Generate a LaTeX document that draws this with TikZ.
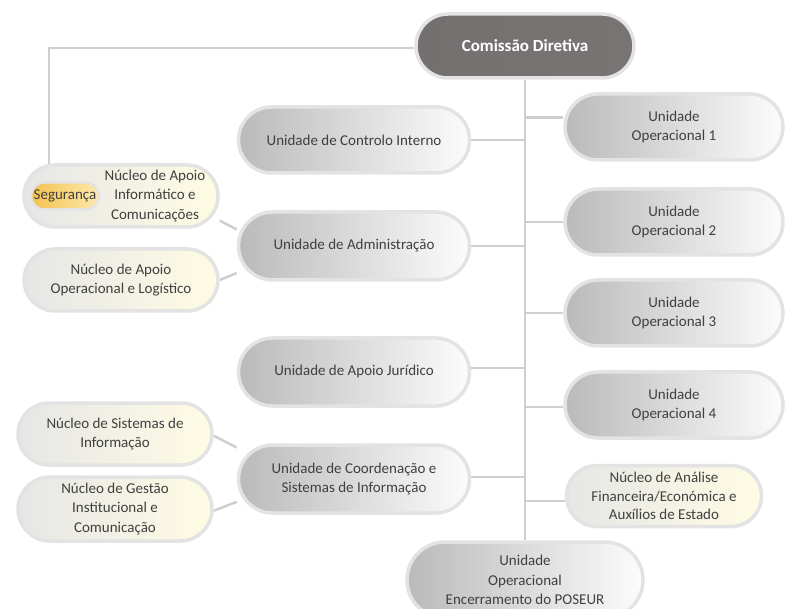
\documentclass[tikz,border=0pt]{standalone}
\usepackage{fontspec}
\setmainfont{Carlito}
\usetikzlibrary{calc,backgrounds}
\definecolor{txt}{HTML}{404040}
\definecolor{pillborder}{HTML}{E3E3E3}
\definecolor{linec}{HTML}{CFCFCF}
\definecolor{unitL}{HTML}{BABABA}
\definecolor{unitR}{HTML}{FCFCFC}
\definecolor{nucL}{HTML}{E6E6E6}
\definecolor{nucR}{HTML}{FFFCE4}
\definecolor{cdL}{HTML}{747070}
\definecolor{cdM}{HTML}{B0ACAC}
\definecolor{cdR}{HTML}{787474}
\definecolor{segL}{HTML}{F3C24E}
\definecolor{segR}{HTML}{FDE9AC}
\begin{document}
\begin{tikzpicture}[x=1pt,y=-1pt,
  pill/.style={rectangle, draw=pillborder, line width=3.5pt, text=txt, align=center,
    inner sep=0pt, font=\fontsize{15}{19.5}\selectfont},
  unitbox/.style={pill, left color=unitL, right color=unitR,
    minimum width=231pt, minimum height=66pt, rounded corners=33pt},
  uobox/.style={pill, left color=unitL, right color=unitR,
    minimum width=218pt, minimum height=66pt, rounded corners=33pt},
  nucbox/.style={pill, left color=nucL, right color=nucR,
    minimum width=194pt, minimum height=62pt, rounded corners=31pt},
  conn/.style={draw=linec, line width=2.5pt}]
\useasboundingbox (0,0) rectangle (787,609);

% top
\node[pill, left color=cdL, middle color=cdM, right color=cdR,
  minimum width=218pt, minimum height=64pt, rounded corners=32pt,
  text=white, font=\fontsize{17}{20}\selectfont\bfseries] (cd) at (525,46) {Comissão Diretiva};

% left units
\node[unitbox] (uci) at (354,140) {Unidade de Controlo Interno};
\node[unitbox, minimum height=68pt, rounded corners=34pt] (adm) at (354,246) {Unidade de Administração};
\node[unitbox, minimum height=68pt, rounded corners=34pt] (aj) at (354,372) {Unidade de Apoio Jurídico};
\node[unitbox, minimum height=68pt, rounded corners=34pt] (coord) at (354,479) {Unidade de Coordenação e\\Sistemas de Informação};

% right units
\node[uobox] (uo1) at (674,127) {Unidade\\Operacional 1};
\node[uobox] (uo2) at (674,222) {Unidade\\Operacional 2};
\node[uobox] (uo3) at (674,313) {Unidade\\Operacional 3};
\node[uobox] (uo4) at (674,405) {Unidade\\Operacional 4};
\node[nucbox, minimum width=195pt, minimum height=61pt, rounded corners=30.5pt,
  font=\fontsize{15}{18.5}\selectfont] (naf) at (664,496) {Núcleo de Análise\\Financeira/Económica e\\Auxílios de Estado};
\node[unitbox, minimum width=236pt, minimum height=76pt, rounded corners=38pt] (pos) at (525,580) {Unidade\\Operacional\\Encerramento do POSEUR};

% left nuclei
\node[nucbox] (inf) at (121,196) {};
\node[font=\fontsize{15}{19.5}\selectfont, text=txt, align=center, inner sep=0pt] (inftxt) at (155,196) {Núcleo de Apoio\\Informático e\\Comunicações};
\node[nucbox] (nlog) at (121,280) {Núcleo de Apoio\\Operacional e Logístico};
\node[nucbox] (nsi) at (115,434) {Núcleo de Sistemas de\\Informação};
\node[nucbox, minimum height=64pt, rounded corners=32pt] (ngc) at (115,509) {Núcleo de Gestão\\Institucional e\\Comunicação};

\coordinate (lcorner) at (49,170);

\begin{scope}[on background layer]
  \draw[conn] (cd.south) -- (pos.north);
  \draw[conn] (cd.181) -| (lcorner);
  \draw[conn] (uci.east) -- (uci.east -| cd.south);
  \draw[conn] (adm.east) -- (adm.east -| cd.south);
  \draw[conn] (aj.2.9) -- (aj.2.9 -| cd.south);
  \draw[conn] (coord.1.5) -- (coord.1.5 -| cd.south);
  \draw[conn] (uo1.175) -- (uo1.175 -| cd.south);
  \draw[conn] (uo2.west) -- (uo2.west -| cd.south);
  \draw[conn] (uo3.west) -- (uo3.west -| cd.south);
  \draw[conn] (uo4.181) -- (uo4.181 -| cd.south);
  \draw[conn] (naf.183.4) -- (naf.183.4 -| cd.south);
  \draw[conn] (inf.-14) -- (adm.172.3);
  \draw[conn] (nlog.east) -- (adm.193.9);
  \draw[conn] (nsi.-1) -- (coord.165);
  \draw[conn] (ngc.-1) -- (coord.191.2);
\end{scope}

\node[pill, left color=segL, right color=segR, line width=2.5pt,
  minimum width=68pt, minimum height=27pt, rounded corners=13.5pt] (seg) at (65,196) {Segurança};
\end{tikzpicture}
\end{document}
